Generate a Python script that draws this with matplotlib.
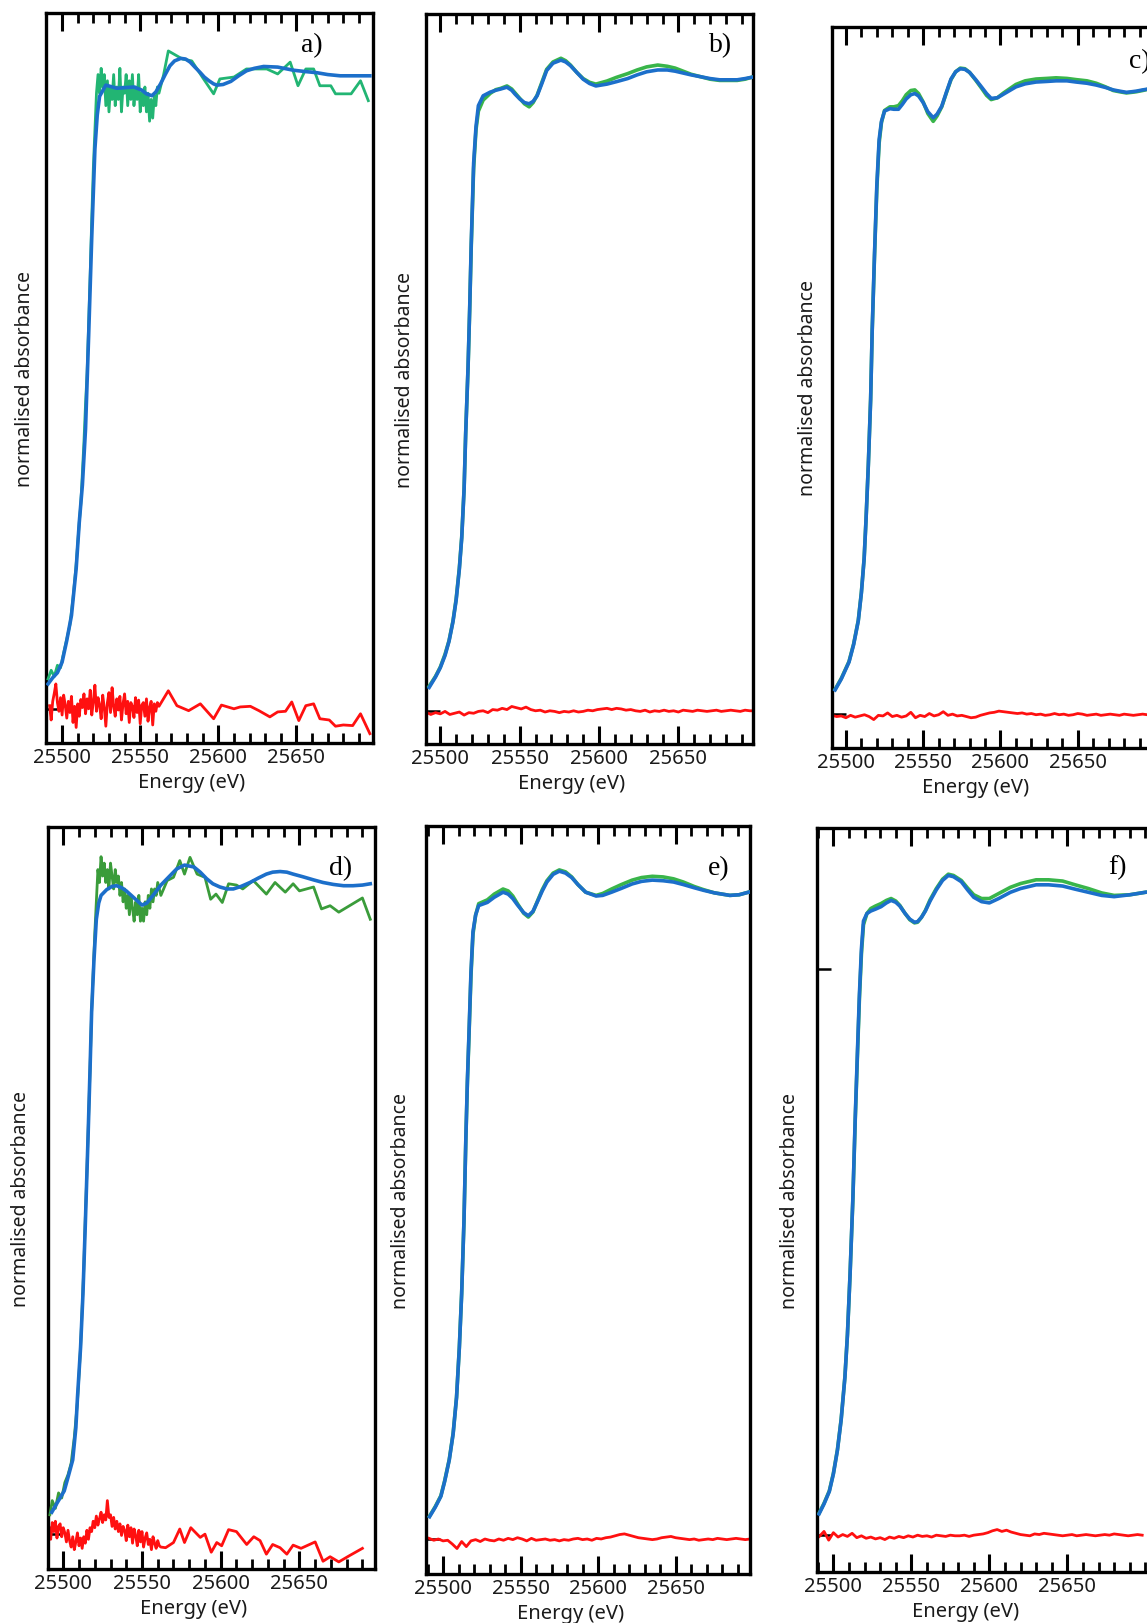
import numpy as np
import matplotlib
matplotlib.use("Agg")
import matplotlib.pyplot as plt
from matplotlib.ticker import MultipleLocator

# ---------------------------------------------------------------- data
# energies in eV, absorbance normalised to the edge step;
# residuals (data - fit) are drawn around their own zero line

# a) fit
E_A_FIT = [25491, 25494, 25497, 25500, 25503, 25506, 25509, 25511, 25513, 25515,
           25517, 25519, 25521, 25522.5, 25524, 25528, 25535, 25546, 25551, 25554,
           25557.5, 25560, 25563, 25566, 25569, 25572, 25576, 25579, 25582, 25585,
           25588.5, 25591, 25594, 25597, 25599, 25603, 25608, 25613, 25618, 25623,
           25629, 25638, 25648, 25655, 25663, 25670, 25678, 25688, 25697]
MU_A_FIT = [0.040, 0.050, 0.058, 0.075, 0.110, 0.150, 0.225, 0.300, 0.360, 0.450,
            0.600, 0.760, 0.900, 0.955, 0.985, 1.003, 0.998, 1.000, 0.995, 0.989,
            0.986, 0.992, 1.005, 1.020, 1.034, 1.042, 1.046, 1.045, 1.040, 1.032,
            1.023, 1.016, 1.010, 1.005, 1.003, 1.004, 1.009, 1.018, 1.026, 1.030,
            1.033, 1.032, 1.027, 1.025, 1.023, 1.020, 1.018, 1.018, 1.018]
# a) measured: pre-edge, 1 eV scan over the edge, coarse k-grid after
E_A_OBS_EDGE = [25491, 25493, 25495, 25497, 25499, 25501, 25503, 25505, 25507, 25509, 25511]
MU_A_OBS_EDGE = [0.048, 0.062, 0.052, 0.070, 0.066, 0.090, 0.112, 0.135, 0.178, 0.232, 0.300]
E_A_OBS_FINE0 = 25512
MU_A_OBS_FINE = [0.33, 0.38, 0.43, 0.49, 0.54, 0.62, 0.70, 0.79, 0.87, 0.93,
                 0.99, 1.02, 0.99, 1.03, 1.00, 1.02, 0.97, 1.01, 0.96, 1.00,
                 0.98, 1.02, 0.97, 1.00, 0.98, 1.03, 0.96, 1.00, 0.99, 1.02,
                 0.97, 1.01, 0.98, 1.02, 0.97, 1.00, 0.98, 1.02, 0.96, 0.99,
                 0.97, 1.00, 0.96, 0.99, 0.945, 0.98, 0.95, 0.985, 0.97, 1.00, 0.99]
E_A_OBS_COARSE = [25565, 25568, 25577, 25583, 25590, 25597, 25601, 25610, 25618, 25631,
                  25638, 25646, 25651, 25656, 25661, 25665, 25672, 25675, 25685, 25691, 25696]
MU_A_OBS_COARSE = [1.020, 1.058, 1.045, 1.042, 1.015, 0.989, 1.013, 1.016, 1.029, 1.029,
                   1.021, 1.040, 1.002, 1.029, 1.029, 1.002, 1.002, 0.989, 0.989, 1.010, 0.978]
E_A_RES_FINE0 = 25492
RES_A_FINE = [0.005, -0.018, 0.012, 0.025, 0.040, 0.010, -0.004, 0.018, -0.010, 0.022,
              0.006, -0.015, 0.012, -0.006, 0.020, -0.022, 0.004, -0.030, 0.008, -0.012,
              0.015, 0.002, 0.024, -0.008, 0.016, 0.000, 0.030, -0.010, 0.012, 0.038,
              -0.004, 0.018, 0.006, -0.016, 0.022, 0.002, -0.028, 0.010, 0.026, -0.006,
              0.034, 0.004, -0.012, 0.016, -0.002, 0.020, -0.018, 0.008, 0.024, -0.008,
              0.012, -0.022, 0.010, 0.004, -0.014, 0.018, -0.006, 0.014, -0.024, 0.006,
              0.010, -0.012, 0.016, -0.020, 0.002, 0.012, -0.026, 0.008, -0.004, 0.010, 0.004]
E_A_RES_COARSE = [25568, 25573.5, 25581, 25588.5, 25597, 25602, 25610, 25614, 25620.5, 25626,
                  25633, 25638, 25643, 25647, 25651.5, 25656, 25661, 25665, 25671, 25675,
                  25680, 25686, 25691, 25697]
RES_A_COARSE = [0.029, 0.005, -0.003, 0.008, -0.016, 0.006, 0.000, 0.003, 0.004, -0.003,
                -0.013, -0.005, -0.004, 0.011, -0.019, 0.005, 0.008, -0.016, -0.018, -0.028,
                -0.026, -0.027, -0.008, -0.040]

# b)
E_B = [25493, 25497, 25500, 25503, 25505.5, 25508, 25510, 25512, 25513.5, 25515,
       25516, 25517.5, 25518.5, 25519.5, 25521, 25522.5, 25524, 25527, 25531.5, 25535,
       25538, 25542, 25545, 25547, 25550, 25553, 25556, 25558.5, 25561, 25564,
       25567, 25571, 25576, 25579, 25582, 25586, 25590, 25594, 25598, 25605,
       25611, 25618, 25624, 25630, 25637, 25643, 25648, 25653, 25658, 25664,
       25670, 25676, 25687, 25692, 25696]
MU_B_FIT = [0.038, 0.055, 0.070, 0.090, 0.113, 0.145, 0.180, 0.230, 0.281, 0.360,
            0.450, 0.560, 0.652, 0.760, 0.890, 0.950, 0.984, 1.000, 1.006, 1.009,
            1.011, 1.014, 1.009, 1.003, 0.995, 0.989, 0.987, 0.991, 1.000, 1.020,
            1.041, 1.053, 1.058, 1.055, 1.049, 1.038, 1.027, 1.020, 1.016, 1.019,
            1.023, 1.028, 1.034, 1.039, 1.042, 1.042, 1.040, 1.037, 1.034, 1.031,
            1.028, 1.026, 1.026, 1.028, 1.030]
MU_B_OBS = [0.040, 0.056, 0.071, 0.092, 0.114, 0.146, 0.182, 0.232, 0.282, 0.362,
            0.452, 0.558, 0.650, 0.755, 0.882, 0.945, 0.975, 0.993, 1.004, 1.010,
            1.012, 1.016, 1.011, 1.005, 0.996, 0.987, 0.982, 0.989, 1.001, 1.022,
            1.043, 1.055, 1.061, 1.057, 1.050, 1.038, 1.028, 1.022, 1.019, 1.024,
            1.030, 1.036, 1.042, 1.047, 1.050, 1.048, 1.045, 1.040, 1.035, 1.031,
            1.027, 1.025, 1.025, 1.027, 1.030]
RES_B = [-0.002, -0.006, -0.003, -0.005, -0.001, -0.006, -0.004, -0.002, -0.007, -0.003,
         -0.004, -0.001, 0.000, -0.003, 0.002, 0.001, 0.004, 0.002, 0.007, 0.005,
         0.003, 0.006, 0.002, 0.000, 0.001, -0.002, 0.000, -0.001, -0.003, -0.001,
         -0.002, 0.000, -0.002, -0.001, 0.001, 0.000, 0.002, 0.003, 0.004, 0.002,
         0.004, 0.003, 0.001, 0.002, 0.000, -0.001, 0.001, -0.002, 0.000, -0.001,
         0.001, -0.001, 0.000, -0.002, 0.001, 0.000, -0.001, 0.001, 0.000, -0.001,
         0.000, 0.001, -0.001, 0.000, 0.001, 0.000, -0.001, 0.001, 0.000, 0.000]

# c)
E_C = [25493, 25497, 25502, 25505, 25508, 25510, 25511.8, 25513, 25514.5, 25516,
       25517, 25518.5, 25520, 25521.5, 25523, 25525, 25528.5, 25531, 25534, 25536.5,
       25539, 25542, 25544.6, 25547, 25550, 25553, 25556.5, 25559, 25562, 25565,
       25568, 25571, 25574, 25577, 25580, 25584, 25588, 25591, 25594, 25598,
       25602, 25606, 25610, 25616, 25623, 25630, 25636, 25643, 25649, 25656,
       25662, 25668, 25673, 25677, 25681.5, 25685, 25688, 25692, 25697]
MU_C_FIT = [0.040, 0.058, 0.086, 0.115, 0.154, 0.200, 0.257, 0.320, 0.411, 0.520,
            0.634, 0.760, 0.874, 0.950, 0.980, 0.997, 1.001, 1.000, 1.000, 1.008,
            1.017, 1.024, 1.026, 1.022, 1.011, 0.996, 0.986, 0.992, 1.005, 1.028,
            1.050, 1.062, 1.067, 1.066, 1.061, 1.049, 1.036, 1.026, 1.018, 1.019,
            1.025, 1.031, 1.037, 1.042, 1.045, 1.046, 1.047, 1.047, 1.045, 1.043,
            1.040, 1.036, 1.032, 1.030, 1.028, 1.029, 1.030, 1.032, 1.034]
MU_C_OBS = [0.041, 0.059, 0.087, 0.116, 0.155, 0.201, 0.258, 0.321, 0.412, 0.521,
            0.633, 0.757, 0.868, 0.944, 0.978, 0.998, 1.004, 1.004, 1.006, 1.014,
            1.024, 1.031, 1.032, 1.026, 1.012, 0.993, 0.980, 0.989, 1.004, 1.027,
            1.049, 1.062, 1.068, 1.067, 1.061, 1.048, 1.034, 1.023, 1.016, 1.019,
            1.027, 1.034, 1.041, 1.047, 1.050, 1.051, 1.052, 1.051, 1.049, 1.047,
            1.043, 1.037, 1.031, 1.029, 1.027, 1.028, 1.029, 1.031, 1.034]
RES_C = [-0.002, -0.004, -0.003, -0.006, -0.002, -0.005, -0.003, -0.001, -0.004, -0.009,
         -0.002, -0.003, 0.002, -0.004, -0.002, -0.005, -0.003, 0.003, -0.006, -0.002,
         -0.004, 0.001, -0.003, -0.001, 0.004, -0.002, 0.000, -0.003, -0.002, -0.004,
         -0.006, -0.005, -0.002, 0.000, 0.002, 0.003, 0.005, 0.004, 0.003, 0.002,
         0.001, 0.002, 0.000, 0.001, -0.001, 0.000, -0.002, -0.001, 0.001, -0.001,
         0.000, -0.002, -0.001, 0.001, 0.000, -0.002, -0.001, 0.000, -0.002, -0.001,
         0.000, -0.001, -0.002, 0.000, -0.001, -0.002, -0.001, 0.000, -0.001, 0.000]

# d) fit
E_D_FIT = [25492.7, 25496, 25500.6, 25503, 25506, 25508, 25509, 25511, 25512.5, 25514,
           25515.7, 25517, 25518, 25519.5, 25521, 25522.5, 25524, 25527.6, 25531, 25534,
           25537, 25540, 25545, 25550, 25553, 25557, 25562, 25568, 25572, 25577,
           25583, 25587, 25591, 25595, 25599.5, 25604, 25608, 25613, 25618.6, 25624,
           25629, 25633, 25637.7, 25642, 25646, 25652, 25659, 25665, 25671.5, 25678,
           25684, 25690, 25695]
MU_D_FIT = [0.034, 0.048, 0.067, 0.088, 0.115, 0.165, 0.211, 0.290, 0.372, 0.480,
            0.612, 0.720, 0.809, 0.890, 0.953, 0.978, 0.990, 0.999, 1.004, 1.005,
            1.002, 0.997, 0.986, 0.975, 0.978, 0.990, 1.006, 1.021, 1.031, 1.037,
            1.034, 1.026, 1.016, 1.008, 1.003, 1.000, 1.000, 1.004, 1.010, 1.017,
            1.023, 1.026, 1.027, 1.026, 1.023, 1.019, 1.014, 1.010, 1.007, 1.005,
            1.005, 1.006, 1.008]
# d) measured
E_D_OBS_EDGE = [25491.5, 25493, 25495, 25497, 25499, 25501, 25503, 25505, 25507, 25509, 25511, 25513]
MU_D_OBS_EDGE = [0.030, 0.052, 0.040, 0.064, 0.056, 0.080, 0.092, 0.110, 0.150, 0.205, 0.290, 0.410]
E_D_OBS_FINE0 = 25514
MU_D_OBS_FINE = [0.49, 0.56, 0.64, 0.72, 0.81, 0.87, 0.93, 0.98, 1.03, 1.01,
                 1.05, 1.02, 1.04, 1.01, 1.03, 1.00, 1.04, 1.02, 1.00, 1.03,
                 1.01, 1.02, 0.99, 1.01, 0.98, 1.00, 0.97, 0.99, 0.96, 0.99,
                 0.97, 0.95, 0.98, 0.96, 0.99, 0.95, 0.97, 0.95, 0.98, 0.96,
                 0.99, 0.97, 1.00, 0.98, 1.00, 0.99, 1.01]
E_D_OBS_COARSE = [25562, 25566, 25570, 25574, 25577, 25580.5, 25585, 25590, 25593.6, 25597,
                  25601, 25605, 25610, 25614, 25620.7, 25629, 25634.5, 25641, 25646, 25650,
                  25659, 25664, 25669.5, 25675, 25690, 25695]
MU_D_OBS_COARSE = [0.990, 1.013, 1.018, 1.044, 1.023, 1.049, 1.023, 1.018, 0.984, 0.992,
                   0.979, 1.008, 1.006, 1.000, 1.013, 0.992, 1.010, 0.995, 1.008, 0.997,
                   1.003, 0.969, 0.974, 0.964, 0.986, 0.953]
E_D_RES_FINE0 = 25491
RES_D_FINE = [0.010, -0.008, 0.018, 0.004, 0.020, -0.006, 0.012, 0.016, -0.004, 0.010,
              0.002, -0.012, 0.006, -0.010, -0.020, -0.004, -0.024, -0.012, 0.002, -0.018,
              -0.006, -0.022, -0.004, -0.014, 0.006, -0.008, 0.010, 0.004, 0.020, 0.010,
              0.028, 0.014, 0.024, 0.034, 0.018, 0.030, 0.022, 0.052, 0.026, 0.030,
              0.012, 0.026, 0.008, 0.020, 0.004, 0.016, -0.002, 0.012, 0.006, -0.010,
              0.014, -0.004, 0.010, -0.014, 0.008, -0.002, -0.018, 0.006, -0.012, 0.004,
              -0.020, -0.006, 0.002, -0.016, -0.008, -0.024, -0.004, -0.014, -0.022, -0.010,
              -0.018, -0.020]
E_D_RES_COARSE = [25565, 25570, 25574, 25577, 25581, 25587, 25590, 25594, 25597.5, 25600.6,
                  25605, 25610, 25616.5, 25621, 25625, 25629, 25633, 25637.7, 25642, 25646,
                  25651, 25660, 25665, 25669.5, 25675, 25682, 25690]
RES_D_COARSE = [-0.021, -0.013, 0.008, -0.013, 0.010, -0.005, 0.000, -0.028, -0.013, -0.018,
                0.007, 0.004, -0.016, -0.004, -0.010, -0.031, -0.016, -0.021, -0.031, -0.017,
                -0.022, -0.012, -0.042, -0.035, -0.043, -0.033, -0.022]

# e)
E_E = [25491.3, 25495, 25498.6, 25501, 25504, 25506.5, 25508.7, 25510.5, 25512, 25513.5,
       25514.7, 25515.7, 25516.7, 25518, 25519.3, 25521, 25523, 25528.6, 25533, 25538.7,
       25542, 25545, 25548, 25552, 25555, 25558, 25560.7, 25564, 25567, 25571,
       25575, 25579, 25583, 25587, 25592, 25598.7, 25603, 25608.7, 25615, 25622,
       25628, 25635, 25642, 25648.7, 25655, 25662, 25668, 25675, 25685, 25691, 25697]
MU_E_FIT = [0.035, 0.050, 0.067, 0.090, 0.124, 0.165, 0.222, 0.300, 0.385, 0.500,
            0.629, 0.720, 0.792, 0.890, 0.954, 0.980, 0.995, 1.000, 1.008, 1.016,
            1.013, 1.006, 0.996, 0.984, 0.979, 0.986, 1.000, 1.018, 1.032, 1.044,
            1.049, 1.046, 1.039, 1.028, 1.016, 1.010, 1.011, 1.016, 1.022, 1.029,
            1.033, 1.035, 1.034, 1.032, 1.028, 1.023, 1.019, 1.015, 1.011, 1.012, 1.016]
MU_E_OBS = [0.036, 0.051, 0.068, 0.091, 0.125, 0.166, 0.223, 0.301, 0.386, 0.500,
            0.627, 0.717, 0.788, 0.884, 0.950, 0.980, 0.998, 1.004, 1.013, 1.021,
            1.018, 1.010, 0.998, 0.983, 0.977, 0.985, 1.001, 1.020, 1.034, 1.046,
            1.051, 1.048, 1.040, 1.028, 1.016, 1.011, 1.014, 1.021, 1.028, 1.035,
            1.039, 1.041, 1.040, 1.037, 1.032, 1.025, 1.020, 1.015, 1.011, 1.012, 1.016]
RES_E = [0.001, -0.002, 0.000, -0.003, -0.002, -0.008, -0.015, -0.004, -0.012, -0.003,
         -0.001, -0.004, 0.000, -0.002, -0.003, 0.000, -0.002, 0.001, -0.001, 0.002,
         0.000, -0.003, 0.001, -0.002, -0.001, 0.000, -0.002, -0.001, -0.003, -0.001,
         -0.002, 0.000, 0.001, -0.001, 0.000, -0.002, 0.001, 0.000, 0.002, 0.003,
         0.005, 0.007, 0.008, 0.006, 0.004, 0.002, 0.001, 0.000, -0.001, 0.000,
         0.002, 0.003, 0.004, 0.002, 0.001, 0.000, -0.001, 0.000, -0.002, -0.001,
         0.000, -0.001, 0.001, 0.000, -0.001, 0.000, 0.001, 0.000, -0.001, 0.000]

# f)
E_F = [25490.8, 25494, 25497.4, 25500, 25502.6, 25505, 25507.4, 25509, 25510.7, 25512.5,
       25514, 25515.5, 25516.7, 25518, 25519.3, 25521.5, 25524, 25527, 25530.6, 25534,
       25537, 25540, 25542.6, 25546, 25549, 25552, 25554, 25556.5, 25559, 25562,
       25566, 25570, 25573.7, 25577, 25582, 25586, 25590, 25595, 25600, 25606,
       25613.5, 25620, 25630, 25638, 25647, 25655, 25663.5, 25672, 25680, 25690, 25700]
MU_F_FIT = [0.034, 0.050, 0.070, 0.098, 0.136, 0.185, 0.253, 0.320, 0.418, 0.540,
            0.668, 0.780, 0.867, 0.940, 0.984, 0.996, 1.000, 1.003, 1.007, 1.013,
            1.017, 1.014, 1.008, 0.996, 0.987, 0.982, 0.983, 0.990, 1.000, 1.016,
            1.034, 1.049, 1.057, 1.055, 1.047, 1.034, 1.022, 1.015, 1.013, 1.020,
            1.030, 1.036, 1.042, 1.042, 1.040, 1.035, 1.030, 1.025, 1.023, 1.026, 1.030]
MU_F_OBS = [0.035, 0.051, 0.071, 0.099, 0.137, 0.186, 0.254, 0.321, 0.418, 0.538,
            0.664, 0.774, 0.860, 0.932, 0.978, 0.996, 1.004, 1.008, 1.012, 1.017,
            1.020, 1.016, 1.009, 0.996, 0.986, 0.981, 0.982, 0.990, 1.001, 1.018,
            1.036, 1.051, 1.059, 1.057, 1.049, 1.037, 1.026, 1.020, 1.020, 1.028,
            1.038, 1.044, 1.050, 1.050, 1.048, 1.042, 1.036, 1.029, 1.025, 1.026, 1.030]
RES_F = [-0.002, 0.006, -0.008, 0.004, -0.003, 0.001, -0.002, 0.003, -0.004, -0.001,
         -0.005, -0.003, -0.006, -0.004, -0.007, -0.003, -0.005, -0.002, -0.004, -0.001,
         -0.003, 0.000, -0.002, -0.001, -0.003, 0.000, -0.001, -0.002, 0.000, -0.001,
         -0.001, 0.000, -0.002, 0.000, 0.001, 0.002, 0.004, 0.007, 0.009, 0.006,
         0.008, 0.005, 0.003, 0.001, 0.000, -0.001, 0.002, 0.001, 0.003, 0.002,
         0.001, 0.000, -0.001, 0.000, 0.001, -0.001, 0.000, 0.001, 0.000, -0.001,
         0.000, 0.001, 0.000, 0.002, 0.001, 0.000, -0.001, 0.000, 0.001, 0.000]

# residual scans of the well-resolved samples share one grid
E_RES_START = 25491
E_RES_STEP = 3.0

MAJOR_TICKS = [25500, 25550, 25600, 25650]

# ---------------------------------------------------------------- style
W, H = 1147, 1624
BLUE = "#1c6fca"
GREEN_TEAL = "#22b573"
GREEN_DARK = "#3a9c3a"
GREEN = "#39b54a"
RED = "#ff1010"
SANS = ["Noto Sans", "DejaVu Sans"]
SERIF = ["Liberation Serif", "DejaVu Serif"]


def grid(start, values, step=1.0):
    return start + step * np.arange(len(values))


def res_grid(values):
    return grid(E_RES_START, values, E_RES_STEP)


# pixel boxes (left, top, right, bottom), limits and label placement per panel
panels = [
    dict(tag="a)", box=(46, 14, 373, 744), xlim=(25489.7, 25699), ylim=(-0.055, 1.119),
         fit=[(E_A_FIT, MU_A_FIT)],
         obs=[(np.concatenate([E_A_OBS_EDGE, grid(E_A_OBS_FINE0, MU_A_OBS_FINE), E_A_OBS_COARSE]),
               np.concatenate([MU_A_OBS_EDGE, MU_A_OBS_FINE, MU_A_OBS_COARSE]))],
         res=[(np.concatenate([grid(E_A_RES_FINE0, RES_A_FINE), E_A_RES_COARSE]),
               np.concatenate([RES_A_FINE, RES_A_COARSE]))],
         green=GREEN_TEAL, obs_lw=2.0, yticks=[0], ylab_off=11, tag_xy=(0.847, 0.948)),
    dict(tag="b)", box=(426, 15, 753, 745), xlim=(25491, 25697), ylim=(-0.054, 1.133),
         fit=[(E_B, MU_B_FIT)], obs=[(E_B, MU_B_OBS)], res=[(res_grid(RES_B), RES_B)],
         green=GREEN, obs_lw=2.6, yticks=[0], ylab_off=11, tag_xy=(0.936, 0.949)),
    dict(tag="c)", box=(832, 28, 1155, 749), xlim=(25491, 25700), ylim=(-0.056, 1.136),
         fit=[(E_C, MU_C_FIT)], obs=[(E_C, MU_C_OBS)], res=[(res_grid(RES_C), RES_C)],
         green=GREEN, obs_lw=2.6, yticks=[0], ylab_off=14, tag_xy=(0.985, 0.944)),
    dict(tag="d)", box=(48, 828, 375, 1570), xlim=(25490.3, 25698), ylim=(-0.054, 1.096),
         fit=[(E_D_FIT, MU_D_FIT)],
         obs=[(np.concatenate([E_D_OBS_EDGE, grid(E_D_OBS_FINE0, MU_D_OBS_FINE), E_D_OBS_COARSE]),
               np.concatenate([MU_D_OBS_EDGE, MU_D_OBS_FINE, MU_D_OBS_COARSE]))],
         res=[(np.concatenate([grid(E_D_RES_FINE0, RES_D_FINE), E_D_RES_COARSE]),
               np.concatenate([RES_D_FINE, RES_D_COARSE]))],
         green=GREEN_DARK, obs_lw=2.0, yticks=[0], ylab_off=17, tag_xy=(0.93, 0.937)),
    dict(tag="e)", box=(426, 827, 750, 1575), xlim=(25489, 25698), ylim=(-0.055, 1.120),
         fit=[(E_E, MU_E_FIT)], obs=[(E_E, MU_E_OBS)], res=[(res_grid(RES_E), RES_E)],
         green=GREEN, obs_lw=2.6, yticks=[0], ylab_off=15, tag_xy=(0.938, 0.935)),
    dict(tag="f)", box=(817, 829, 1150, 1573), xlim=(25489.5, 25703), ylim=(-0.059, 1.133),
         fit=[(E_F, MU_F_FIT)], obs=[(E_F, MU_F_OBS)], res=[(res_grid(RES_F), RES_F)],
         green=GREEN, obs_lw=2.6, yticks=[0, 0.907], ylab_off=17, tag_xy=(0.93, 0.94)),
]

fig = plt.figure(figsize=(W / 100, H / 100), dpi=100)
fig.patch.set_facecolor("white")

for p in panels:
    left, top, right, bottom = p["box"]
    ax = fig.add_axes([left / W, 1 - bottom / H, (right - left) / W, (bottom - top) / H])
    height_px = bottom - top
    width_px = right - left

    for e, mu in p["res"]:
        ax.plot(e, mu, color=RED, lw=2.0, zorder=2, solid_joinstyle="round")
    for e, mu in p["obs"]:
        ax.plot(e, mu, color=p["green"], lw=p["obs_lw"], zorder=3, solid_joinstyle="round")
    for e, mu in p["fit"]:
        ax.plot(e, mu, color=BLUE, lw=2.6, zorder=4, solid_joinstyle="round")

    ax.set_xlim(*p["xlim"])
    ax.set_ylim(*p["ylim"])

    for side in ax.spines.values():
        side.set_linewidth(2.4)
        side.set_color("black")

    ax.set_xticks(MAJOR_TICKS)
    ax.xaxis.set_minor_locator(MultipleLocator(10))
    ax.tick_params(axis="x", which="both", direction="in", top=True, bottom=True,
                   labeltop=False, color="black", pad=3)
    ax.tick_params(axis="x", which="major", length=13, width=2.2,
                   labelsize=14.5, labelcolor="#1a1a1a")
    ax.tick_params(axis="x", which="minor", length=7, width=2.0)
    for lbl in ax.get_xticklabels():
        lbl.set_family(SANS)

    ax.set_yticks(p["yticks"])
    ax.tick_params(axis="y", direction="in", length=10, width=1.8,
                   left=True, right=False, labelleft=False)

    ax.set_xlabel("Energy (eV)", fontsize=14.5, family=SANS, color="#1a1a1a", va="top")
    ax.xaxis.set_label_coords(0.445, -29 / height_px)
    ax.set_ylabel("normalised absorbance", fontsize=14, family=SANS, color="#1a1a1a")
    ax.yaxis.set_label_coords(-p["ylab_off"] / width_px, 0.5)

    ax.text(p["tag_xy"][0], p["tag_xy"][1], p["tag"], transform=ax.transAxes,
            ha="right", va="baseline", fontsize=20, family=SERIF, color="black")

fig.savefig("out.png", dpi=100, facecolor="white")
